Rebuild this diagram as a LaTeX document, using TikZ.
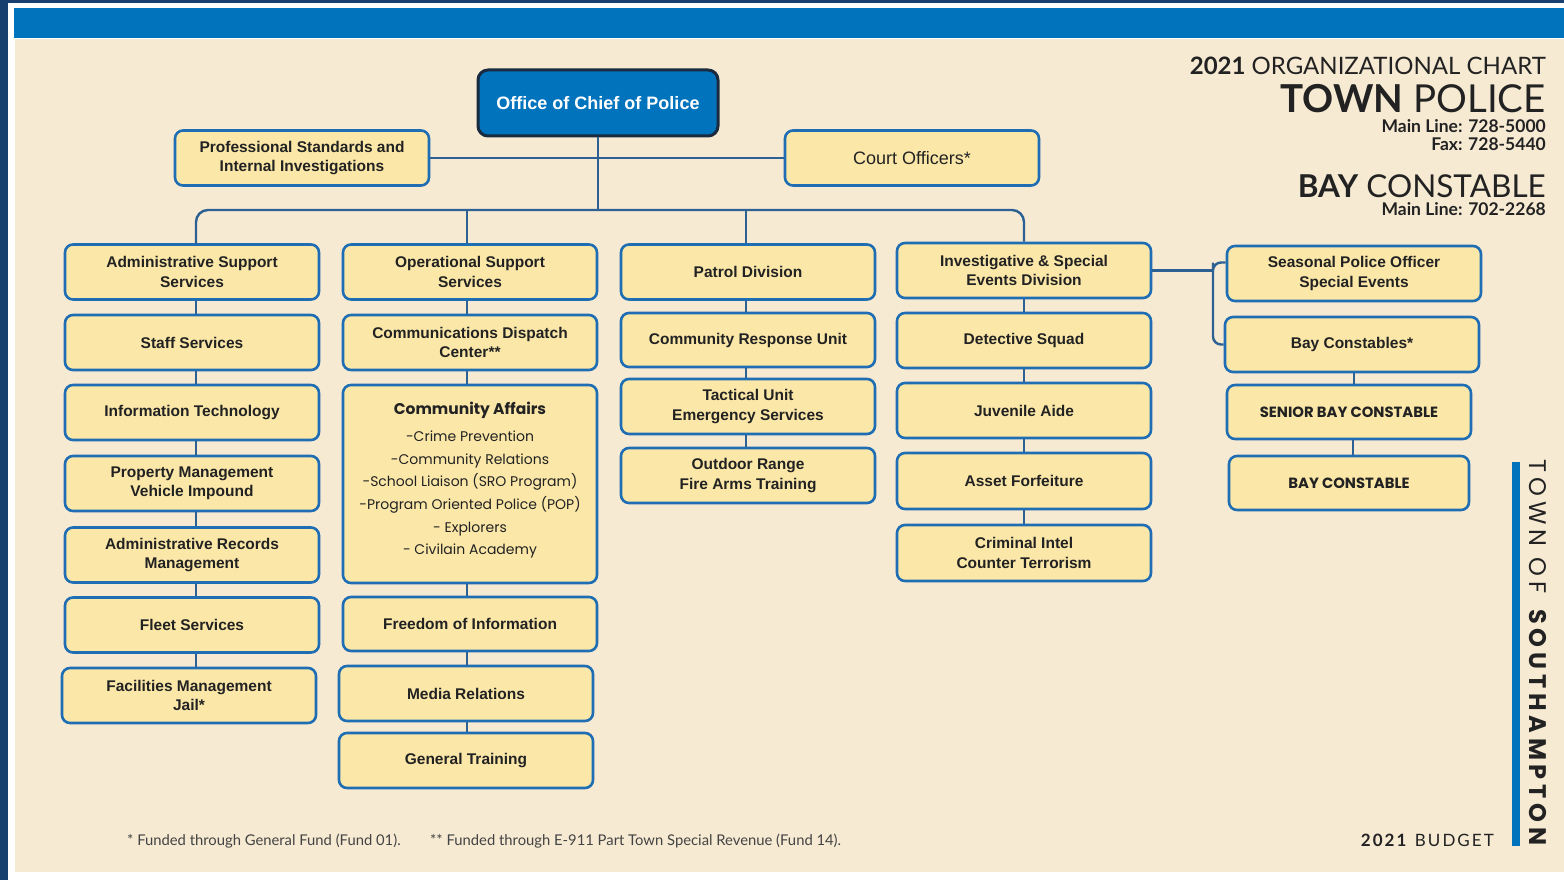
\documentclass[tikz,border=0pt]{standalone}
\usepackage{fontspec}
\setmainfont{Liberation Sans}
\newfontfamily\gillfont{Lato}
\newfontfamily\gillwide[LetterSpace=12]{Lato}
\newfontfamily\geofont{Poppins}
\newfontfamily\geowide[LetterSpace=20]{Poppins}

\definecolor{navy}{HTML}{17406E}
\definecolor{band}{HTML}{0073BD}
\definecolor{paper}{HTML}{F6EAD3}
\definecolor{boxfill}{HTML}{FBE8A9}
\definecolor{boxline}{HTML}{1F6DB3}
\definecolor{chiefline}{HTML}{1B2B3F}
\definecolor{wire}{HTML}{2D6194}
\definecolor{ink}{HTML}{222222}
\definecolor{soft}{HTML}{555555}

\newcommand\boxfont{\bfseries\fontsize{15.5}{19.5}\selectfont}
\newcommand\capsfont{\geofont\bfseries\fontsize{14.8}{17}\selectfont}
\newcommand\listfont{\geofont\fontsize{14}{22.6}\selectfont\color{soft}}

\begin{document}
\begin{tikzpicture}[x=1pt,y=-1pt,
  unit/.style={draw=boxline, line width=2.6pt, fill=boxfill, rounded corners=8pt,
    minimum width=254pt, minimum height=55pt, inner sep=2pt, align=center,
    text=ink, font=\boxfont},
  chief/.style={draw=chiefline, line width=3pt, fill=band, rounded corners=10pt,
    minimum width=240pt, minimum height=66pt, text=white,
    font=\bfseries\fontsize{18}{21}\selectfont},
  wire/.style={draw=wire, line width=2.4pt},
  hdr/.style={anchor=base east, inner sep=0pt, text=ink},
  note/.style={anchor=base west, inner sep=0pt, text=ink!85,
    font=\gillfont\fontsize{14.8}{17}\selectfont}]

% page frame, blue band and paper
\useasboundingbox (0,0) rectangle (1564,880);
\fill[white] (0,0) rectangle (1564,880);
\fill[navy] (0,0) rectangle (8,880);
\fill[navy] (0,0) rectangle (1564,3);
\fill[paper] (15,39) rectangle (1564,872);
\fill[band] (14,8) rectangle (1564,38);

% top level
\node[chief] (chief) at (598,103) {Office of Chief of Police};
\node[unit] (ps) at (302,158) {Professional Standards and\\Internal Investigations};
\node[unit, font=\fontsize{18}{21}\selectfont] (court) at (912,158) {Court Officers*};

% administrative column
\node[unit] (a1) at (192,272) {Administrative Support\\Services};
\node[unit] (a2) at (192,342.5) {Staff Services};
\node[unit] (a3) at (192,412.5) {Information Technology};
\node[unit] (a4) at (192,483.5) {Property Management\\Vehicle Impound};
\node[unit] (a5) at (192,555) {Administrative Records\\Management};
\node[unit] (a6) at (192,625) {Fleet Services};
\node[unit] (a7) at (189,695.5) {Facilities Management\\Jail*};

% operational column
\node[unit] (b1) at (470,272) {Operational Support\\Services};
\node[unit] (b2) at (470,342.5) {Communications Dispatch\\Center**};
\node[unit, minimum height=198pt, font=\listfont] (b3) at (470,484)
  {{\boxfont\color{ink}Community Affairs}\\[5pt]
   -Crime Prevention\\
   -Community Relations\\
   -School Liaison (SRO Program)\\
   -Program Oriented Police (POP)\\
   - Explorers\\
   - Civilain Academy\\[-11pt]\mbox{}};
\node[unit, minimum height=54pt] (b4) at (470,624) {Freedom of Information};
\node[unit] (b5) at (466,693.5) {Media Relations};
\node[unit] (b6) at (466,760.5) {General Training};

% patrol column
\node[unit] (c1) at (748,272) {Patrol Division};
\node[unit, minimum height=54pt] (c2) at (748,340) {Community Response Unit};
\node[unit] (c3) at (748,406.5) {Tactical Unit\\Emergency Services};
\node[unit] (c4) at (748,475.5) {Outdoor Range\\Fire Arms Training};

% investigative column
\node[unit] (d1) at (1024,270.5) {Investigative \& Special\\Events Division};
\node[unit] (d2) at (1024,340.5) {Detective Squad};
\node[unit] (d3) at (1024,410.5) {Juvenile Aide};
\node[unit, minimum height=56pt] (d4) at (1024,481) {Asset Forfeiture};
\node[unit, minimum height=56pt] (d5) at (1024,553) {Criminal Intel\\Counter Terrorism};

% seasonal and bay constables
\node[unit] (e1) at (1354,273.5) {Seasonal Police Officer\\Special Events};
\node[unit] (e2) at (1352,344.5) {Bay Constables*};
\node[unit, minimum width=244pt, minimum height=54pt, font=\capsfont] (e3) at (1349,412) {SENIOR BAY CONSTABLE};
\node[unit, minimum width=240pt, minimum height=54pt, font=\capsfont] (e4) at (1349,483) {BAY CONSTABLE};

% connectors
\coordinate (bus) at (598,210);
\coordinate (br) at (1213,270.5);
\draw[wire] (ps.east) -- (court.west);
\draw[wire] (chief.south) -- (bus);
\draw[wire, rounded corners=12pt] ([xshift=4pt]a1.north) |- (bus) -| (d1.north);
\draw[wire] ([xshift=-3pt]b1.north) -- ([xshift=-3pt]b1.north |- bus);
\draw[wire] ([xshift=-2pt]c1.north) -- ([xshift=-2pt]c1.north |- bus);

\foreach \u/\l in {a1/a2,a2/a3,a3/a4,a4/a5,a5/a6,a6/a7}
  \draw[wire] ([xshift=4pt]\u.south) -- ([xshift=4pt]\u.south |- \l.north);
\foreach \u/\l in {b1/b2,b2/b3,b3/b4,b4/b5,b5/b6}
  \draw[wire] ([xshift=-3pt]b1.south |- \u.south) -- ([xshift=-3pt]b1.south |- \l.north);
\foreach \u/\l in {c1/c2,c2/c3,c3/c4}
  \draw[wire] ([xshift=-2pt]\u.south) -- ([xshift=-2pt]\u.south |- \l.north);
\foreach \u/\l in {d1/d2,d2/d3,d3/d4,d4/d5}
  \draw[wire] (\u.south) -- (\u.south |- \l.north);

\draw[wire] (d1.east) -- (br);
\draw[wire, rounded corners=8pt] ([yshift=11pt]e1.west) -| (br) |- (e2.west);
\draw[wire] ([xshift=2pt]e2.south) -- ([xshift=2pt]e2.south |- e3.north);
\draw[wire] ([xshift=4pt]e3.south) -- ([xshift=4pt]e3.south |- e4.north);

% heading
\node[hdr, font=\gillfont\fontsize{24}{30}\selectfont] (h1) at (1546,75) {\textbf{2021} ORGANIZATIONAL CHART};
\node[hdr, font=\gillfont\fontsize{38.5}{44}\selectfont] (h2) at (1546,113) {\textbf{TOWN} POLICE};
\node[hdr, font=\gillfont\bfseries\fontsize{17.5}{20}\selectfont] (h3) at (1546,133) {Main Line: 728-5000};
\node[hdr, font=\gillfont\bfseries\fontsize{17.5}{20}\selectfont] (h4) at (1546,151) {Fax: 728-5440};
\node[hdr, font=\gillfont\fontsize{31.5}{38}\selectfont] (h5) at (1546,197) {\textbf{BAY} CONSTABLE};
\node[hdr, font=\gillfont\bfseries\fontsize{17.5}{20}\selectfont] (h6) at (1546,215) {Main Line: 702-2268};

% side title
\fill[band] (1512,462) rectangle (1520,846);
\node[rotate=-90, inner sep=0pt, text=ink, font=\geowide\fontsize{24}{26}\selectfont] (side) at (1538,655) {TOWN OF \textbf{SOUTHAMPTON}};

% footer
\node[note] (f1) at (127,845) {* Funded through General Fund (Fund 01).};
\node[note] (f2) at (430,845) {** Funded through E-911 Part Town Special Revenue (Fund 14).};
\node[hdr, font=\gillwide\fontsize{17}{19}\selectfont] (f3) at (1494,846) {\textbf{2021} BUDGET};
\end{tikzpicture}
\end{document}
